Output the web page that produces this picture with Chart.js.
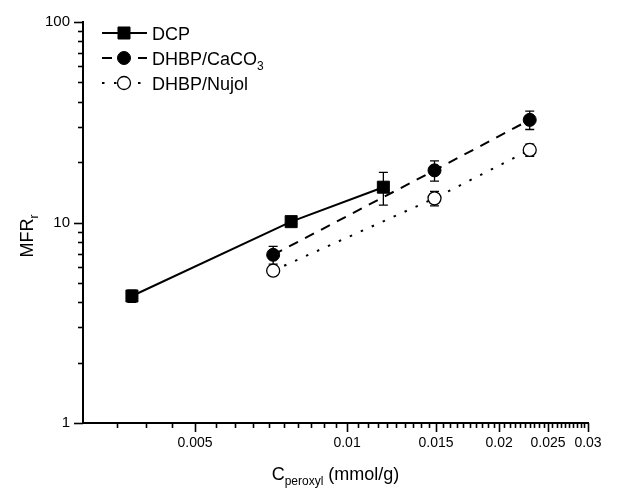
<!DOCTYPE html>
<html>
<head>
<meta charset="utf-8">
<script src="https://cdn.jsdelivr.net/npm/chart.js@4.4.0/dist/chart.umd.min.js"></script>
<style>
  html, body { margin: 0; padding: 0; background: #fff; }
</style>
</head>
<body>
<canvas id="mfrChart" width="630" height="489"></canvas>
<script>
// peroxyl concentration, mmol/g
const dcpX = [0.00375, 0.00775, 0.0118];
const dhbpX = [0.00714, 0.0149, 0.0230];
// MFR ratio
const dcpY = [4.3, 10.1, 15.0];
const caco3Y = [6.9, 18.2, 32.5];
const nujolY = [5.75, 13.2, 23.0];
// error bars (+/-)
const dcpErr = [0.3, 0.4, 2.8];
const caco3Err = [0.7, 2.1, 3.4];
const nujolErr = [0.3, 1.1, 1.6];

const seriesNames = ["DCP", "DHBP/CaCO_{3}", "DHBP/Nujol"];
const xTickLabels = [0.005, 0.01, 0.015, 0.02, 0.025, 0.03];
const yTickLabels = [1, 10, 100];
const xTitle = "C_{peroxyl} (mmol/g)";
const yTitle = "MFR_{r}";

const FONT = "'Liberation Sans', Arial, sans-serif";
Chart.defaults.font.family = FONT;
Chart.defaults.color = "#000";

function pts(xs, ys) {
  return xs.map((x, i) => ({ x: x, y: ys[i] }));
}

// text with _{sub} parts, drawn at baseline
function drawRich(ctx, text, x, y, size, align) {
  const parts = [];
  const re = /_\{([^}]*)\}/g;
  let last = 0, m;
  while ((m = re.exec(text))) {
    if (m.index > last) parts.push({ t: text.slice(last, m.index), sub: false });
    parts.push({ t: m[1], sub: true });
    last = re.lastIndex;
  }
  if (last < text.length) parts.push({ t: text.slice(last), sub: false });
  const subSize = Math.round(size * 0.68);
  let total = 0;
  parts.forEach(p => {
    ctx.font = (p.sub ? subSize : size) + "px " + FONT;
    p.w = ctx.measureText(p.t).width;
    total += p.w;
  });
  let cx = align === "center" ? x - total / 2 : x;
  ctx.textAlign = "left";
  ctx.textBaseline = "alphabetic";
  parts.forEach(p => {
    ctx.font = (p.sub ? subSize : size) + "px " + FONT;
    ctx.fillText(p.t, cx, p.sub ? y + size * 0.3 : y);
    cx += p.w;
  });
}

function marker(ctx, ds, x, y) {
  ctx.save();
  ctx.setLineDash([]);
  ctx.fillStyle = ds.pointBackgroundColor;
  ctx.strokeStyle = "#000";
  ctx.lineWidth = ds.pointBorderWidth;
  ctx.beginPath();
  if (ds.pointStyle === "rect") {
    const s = ds.pointRadius * Math.SQRT1_2;
    ctx.rect(x - s, y - s, 2 * s, 2 * s);
  } else {
    ctx.arc(x, y, ds.pointRadius, 0, Math.PI * 2);
  }
  ctx.fill();
  ctx.stroke();
  ctx.restore();
}

const errorBars = {
  id: "errorBars",
  beforeDatasetsDraw(chart) {
    const { ctx, scales: { x, y } } = chart;
    ctx.save();
    ctx.strokeStyle = "#000";
    ctx.lineWidth = 1.3;
    chart.data.datasets.forEach(ds => {
      ds.data.forEach((p, j) => {
        const e = ds.errors[j];
        const px = x.getPixelForValue(p.x);
        const top = y.getPixelForValue(p.y + e);
        const bot = y.getPixelForValue(p.y - e);
        ctx.beginPath();
        ctx.moveTo(px, top); ctx.lineTo(px, bot);
        ctx.moveTo(px - 4.5, top); ctx.lineTo(px + 4.5, top);
        ctx.moveTo(px - 4.5, bot); ctx.lineTo(px + 4.5, bot);
        ctx.stroke();
      });
    });
    ctx.restore();
  }
};

const decorations = {
  id: "decorations",
  afterDraw(chart) {
    const { ctx, scales: { x, y }, chartArea } = chart;
    ctx.save();
    ctx.strokeStyle = "#000";
    ctx.fillStyle = "#000";
    ctx.lineWidth = 1.6;
    // tick marks, outward
    x.ticks.forEach(t => {
      if (t.value <= x.min + 1e-9) return;
      const px = Math.round(x.getPixelForValue(t.value)) + 0.5;
      const len = xTickLabels.some(v => Math.abs(v - t.value) < 1e-7) ? 9 : 5;
      ctx.beginPath();
      ctx.moveTo(px, chartArea.bottom);
      ctx.lineTo(px, chartArea.bottom + len);
      ctx.stroke();
    });
    y.ticks.forEach(t => {
      if (t.value <= y.min) return;
      const py = Math.round(y.getPixelForValue(t.value)) + 0.5;
      const len = yTickLabels.includes(t.value) ? 9 : 5;
      ctx.beginPath();
      ctx.moveTo(chartArea.left, py);
      ctx.lineTo(chartArea.left - len, py);
      ctx.stroke();
    });
    // tick at y=1 on the axis
    ctx.beginPath();
    ctx.moveTo(chartArea.left, chartArea.bottom + 0.5);
    ctx.lineTo(chartArea.left - 9, chartArea.bottom + 0.5);
    ctx.stroke();

    // axis titles
    drawRich(ctx, xTitle, (chartArea.left + chartArea.right) / 2, 480, 18, "center");
    ctx.save();
    ctx.translate(33, 236);
    ctx.rotate(-Math.PI / 2);
    drawRich(ctx, yTitle, 0, 0, 18, "center");
    ctx.restore();

    // legend
    const rows = [33, 58, 83];
    chart.data.datasets.forEach((ds, i) => {
      const ly = rows[i];
      ctx.save();
      ctx.lineWidth = ds.borderWidth;
      ctx.setLineDash(ds.borderDash || []);
      ctx.beginPath();
      ctx.moveTo(102, ly);
      ctx.lineTo(147, ly);
      ctx.stroke();
      ctx.restore();
      marker(ctx, ds, 124, ly);
      drawRich(ctx, seriesNames[i], 152, ly + 7, 18, "left");
    });
    ctx.restore();
  }
};

function xTicks() {
  const out = [];
  for (let i = 6; i <= 60; i++) out.push({ value: Number((i * 0.0005).toFixed(4)) });
  return out;
}
function yTicks() {
  const out = [];
  [1, 10].forEach(d => { for (let k = 1; k <= 9; k++) out.push({ value: k * d }); });
  out.push({ value: 100 });
  return out;
}

const datasets = [
  {
    label: seriesNames[0],
    data: pts(dcpX, dcpY),
    errors: dcpErr,
    borderColor: "#000",
    borderWidth: 2,
    borderDash: [],
    pointStyle: "rect",
    pointRadius: 8.5,
    pointBackgroundColor: "#000",
    pointBorderColor: "#000",
    pointBorderWidth: 1
  },
  {
    label: seriesNames[1],
    data: pts(dhbpX, caco3Y),
    errors: caco3Err,
    borderColor: "#000",
    borderWidth: 2,
    borderDash: [10, 8],
    pointStyle: "circle",
    pointRadius: 6.5,
    pointBackgroundColor: "#000",
    pointBorderColor: "#000",
    pointBorderWidth: 1
  },
  {
    label: seriesNames[2],
    data: pts(dhbpX, nujolY),
    errors: nujolErr,
    borderColor: "#000",
    borderWidth: 2,
    borderDash: [2.5, 9.5],
    pointStyle: "circle",
    pointRadius: 6.5,
    pointBackgroundColor: "#fff",
    pointBorderColor: "#000",
    pointBorderWidth: 1.3
  }
];

const ctx = document.getElementById("mfrChart").getContext("2d");
const chart = new Chart(ctx, {
  type: "line",
  data: { datasets: datasets },
  options: {
    responsive: false,
    animation: false,
    layout: { padding: { top: 22, right: 42, left: 0, bottom: 0 } },
    plugins: { legend: { display: false }, tooltip: { enabled: false } },
    elements: { line: { tension: 0, fill: false } },
    scales: {
      x: {
        type: "logarithmic",
        min: 0.003,
        max: 0.03,
        afterBuildTicks(scale) { scale.ticks = xTicks(); },
        afterFit(scale) { scale.height = 66; },
        grid: { display: true, drawOnChartArea: false, drawTicks: true, tickLength: 8, tickColor: "rgba(0,0,0,0)" },
        border: { display: true, color: "#000", width: 2 },
        ticks: {
          autoSkip: false,
          maxRotation: 0,
          padding: 4,
          font: { size: 14 },
          callback(v) {
            const hit = xTickLabels.find(t => Math.abs(t - v) < 1e-7);
            return hit !== undefined ? String(hit) : "";
          }
        }
      },
      y: {
        type: "logarithmic",
        min: 1,
        max: 100,
        afterBuildTicks(scale) { scale.ticks = yTicks(); },
        afterFit(scale) { scale.width = 83; },
        grid: { display: true, drawOnChartArea: false, drawTicks: true, tickLength: 8, tickColor: "rgba(0,0,0,0)" },
        border: { display: true, color: "#000", width: 2 },
        ticks: {
          autoSkip: false,
          padding: 5,
          font: { size: 15 },
          callback(v) { return yTickLabels.includes(v) ? String(v) : ""; }
        }
      }
    }
  },
  plugins: [errorBars, decorations]
});
</script>
</body>
</html>
